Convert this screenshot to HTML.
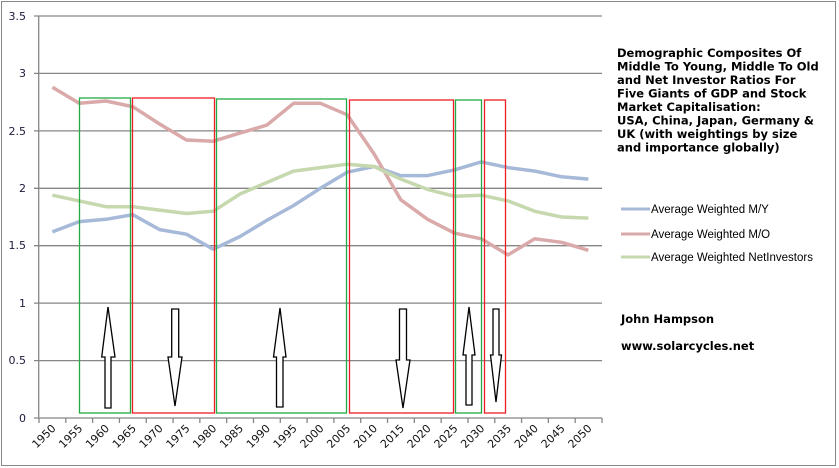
<!DOCTYPE html>
<html><head><meta charset="utf-8"><style>
html,body{margin:0;padding:0;background:#fff}
svg{display:block}
</style></head><body>
<svg width="839" height="468" viewBox="0 0 839 468" xmlns="http://www.w3.org/2000/svg">
<rect x="1.5" y="1.5" width="834" height="464" fill="#fff" stroke="#868686" stroke-width="1"/>
<g stroke="#868686" stroke-width="1.3">
<line x1="34" y1="16" x2="602" y2="16"/>
<line x1="34" y1="73.4" x2="602" y2="73.4"/>
<line x1="34" y1="130.9" x2="602" y2="130.9"/>
<line x1="34" y1="188.3" x2="602" y2="188.3"/>
<line x1="34" y1="245.7" x2="602" y2="245.7"/>
<line x1="34" y1="303.1" x2="602" y2="303.1"/>
<line x1="34" y1="360.6" x2="602" y2="360.6"/>
<line x1="34" y1="418" x2="602" y2="418"/>
<line x1="38.7" y1="16" x2="38.7" y2="418"/>
</g>
<g stroke="#868686" stroke-width="1.3" id="ticks"></g>
<g font-family="DejaVu Sans, Verdana, sans-serif" font-size="11" fill="#1a1a3a" text-anchor="end">
<text x="26" y="20">3.5</text>
<text x="26" y="77">3</text>
<text x="26" y="135">2.5</text>
<text x="26" y="192">2</text>
<text x="26" y="249">1.5</text>
<text x="26" y="307">1</text>
<text x="26" y="364">0.5</text>
<text x="26" y="422">0</text>
</g>
<g id="xl" font-family="DejaVu Sans, Verdana, sans-serif" font-size="11" fill="#111" text-anchor="end"></g>
<g fill="none" stroke-width="3.5" stroke-linejoin="round">
<polyline id="my" stroke="#a7b9d8"/>
<polyline id="mo" stroke="#daa9a9"/>
<polyline id="ni" stroke="#c6d8ae"/>
</g>
<g fill="none" stroke-width="1.3">
<rect x="79.5" y="98" width="51" height="315" stroke="#22aa44"/>
<rect x="132.5" y="98" width="82" height="315" stroke="#ee1c24"/>
<rect x="216.5" y="99" width="130" height="314" stroke="#22aa44"/>
<rect x="349.5" y="100" width="104" height="313" stroke="#ee1c24"/>
<rect x="455.5" y="100" width="26" height="313" stroke="#22aa44"/>
<rect x="484.5" y="100" width="21" height="313" stroke="#ee1c24"/>
</g>
<g fill="#fff" stroke="#000" stroke-width="1.3">
<polygon points="105,408 111,408 111,357 115,357 108,307 101.7,357 105,357"/>
<polygon points="171.7,309 178.7,309 178.7,357 182,357 175,406 168,357 171.7,357"/>
<polygon points="276.5,407 283,407 283,357 286,357 280,308 273.5,357 276.5,357"/>
<polygon points="399.5,309 406.5,309 406.5,360 410,360 403,408 396,360 399.5,360"/>
<polygon points="466,405 472,405 472,355 475,355 469,307 463,355 466,355"/>
<polygon points="493,309 499,309 499,355 501.5,355 496,402 490.5,355 493,355"/>
</g>
<g font-family="DejaVu Sans, Verdana, sans-serif" font-size="11.5" font-weight="bold" fill="#000">
<text x="617" y="57">Demographic Composites Of</text>
<text x="617" y="70.5">Middle To Young, Middle To Old</text>
<text x="617" y="84">and Net Investor Ratios For</text>
<text x="617" y="97.5">Five Giants of GDP and Stock</text>
<text x="617" y="111">Market Capitalisation:</text>
<text x="617" y="124.5">USA, China, Japan, Germany &amp;</text>
<text x="617" y="138">UK (with weightings by size</text>
<text x="617" y="151.5">and importance globally)</text>
<text x="621" y="323">John Hampson</text>
<text x="621" y="350">www.solarcycles.net</text>
</g>
<g stroke-width="3">
<line x1="621" y1="209" x2="650" y2="209" stroke="#a7b9d8"/>
<line x1="621" y1="234" x2="650" y2="234" stroke="#daa9a9"/>
<line x1="621" y1="257" x2="650" y2="257" stroke="#c6d8ae"/>
</g>
<g font-family="Liberation Sans, Arial, sans-serif" font-size="11.5" fill="#000">
<text x="651" y="213">Average Weighted M/Y</text>
<text x="651" y="238">Average Weighted M/O</text>
<text x="651" y="261">Average Weighted NetInvestors</text>
</g>
<script>
var my=[1.62,1.71,1.73,1.77,1.64,1.60,1.47,1.58,1.72,1.85,2.0,2.14,2.19,2.11,2.11,2.16,2.23,2.18,2.15,2.10,2.08];
var mo=[2.88,2.74,2.76,2.71,2.56,2.42,2.41,2.48,2.55,2.74,2.74,2.64,2.30,1.90,1.73,1.61,1.56,1.42,1.56,1.53,1.46];
var ni=[1.94,1.89,1.84,1.84,1.81,1.78,1.80,1.95,2.05,2.15,2.18,2.21,2.19,2.08,1.99,1.93,1.94,1.89,1.80,1.75,1.74];
function X(i){return 52.4+26.8*i;}function Y(v){return 418-v*114.86;}
function pts(a){return a.map(function(v,i){return X(i).toFixed(1)+","+Y(v).toFixed(1)}).join(" ");}
document.getElementById("my").setAttribute("points",pts(my));
document.getElementById("mo").setAttribute("points",pts(mo));
document.getElementById("ni").setAttribute("points",pts(ni));
var ns="http://www.w3.org/2000/svg",t=document.getElementById("ticks"),xl=document.getElementById("xl");
for(var i=0;i<=21;i++){var l=document.createElementNS(ns,"line");var x=39+26.81*i;l.setAttribute("x1",x);l.setAttribute("x2",x);l.setAttribute("y1",418);l.setAttribute("y2",423);t.appendChild(l);}
for(var i=0;i<21;i++){var tx=document.createElementNS(ns,"text");var x=X(i)+4,y=429;tx.setAttribute("x",x);tx.setAttribute("y",y);tx.setAttribute("transform","rotate(-45 "+x+" "+y+")");tx.textContent=1950+5*i;xl.appendChild(tx);}
</script>
</svg>
</body></html>
